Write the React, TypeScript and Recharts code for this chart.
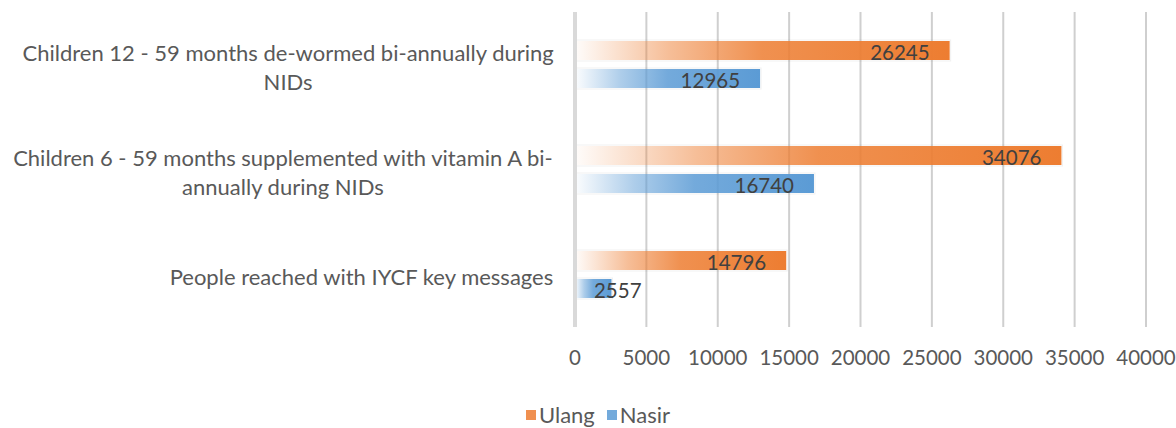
import { BarChart, Bar, XAxis, YAxis, CartesianGrid, Legend, LabelList } from "recharts"

const categories = [
  "Children 12 - 59 months de-wormed bi-annually during NIDs",
  "Children 6 - 59 months supplemented with vitamin A bi-annually during NIDs",
  "People reached with IYCF key messages",
]
const ulang = [26245, 34076, 14796]
const nasir = [12965, 16740, 2557]
const xTicks = [0, 5000, 10000, 15000, 20000, 25000, 30000, 35000, 40000]

const ORANGE = "#ED7D31"
const BLUE = "#5B9BD5"
const FONT = "Lato, 'Open Sans', sans-serif"
const NUM_SIZE = 20.5
const CAT_SIZE = 22

const data = categories.map((name, i) => ({ name, Ulang: ulang[i], Nasir: nasir[i] }))

let ctx: CanvasRenderingContext2D | null = null
function textWidth(s: string, size: number) {
  if (!ctx) ctx = document.createElement("canvas").getContext("2d")
  if (!ctx) return s.length * size * 0.5
  ctx.font = `${size}px Lato`
  return ctx.measureText(s).width
}

// word wrap, also allowed to break after a hyphen
function wrap(text: string, maxWidth: number) {
  const pieces = text.split(" ").flatMap((w) => {
    const parts = w.split(/(?<=-)(?=[a-z])/)
    return parts.map((p, i) => (i < parts.length - 1 ? p : p + " "))
  })
  const lines: string[] = []
  let cur = ""
  for (const p of pieces) {
    const next = cur + p
    if (cur && textWidth(next.trim(), CAT_SIZE) > maxWidth) {
      lines.push(cur.trim())
      cur = p
    } else cur = next
  }
  if (cur.trim()) lines.push(cur.trim())
  return lines
}

const CategoryTick = (props: any) => {
  const { x, y, payload } = props
  const lines = wrap(payload.value, 555)
  const widest = Math.max(...lines.map((l) => textWidth(l, CAT_SIZE)))
  const right = x - 13
  const cx = right - widest / 2
  const lh = 29
  const top = y - ((lines.length - 1) * lh) / 2 + 2
  return (
    <g>
      {lines.map((l, i) => (
        <text
          key={i}
          x={cx}
          y={top + i * lh}
          textAnchor="middle"
          dominantBaseline="central"
          fill="#595959"
          fontSize={CAT_SIZE}
          fontFamily={FONT}
        >
          {l}
        </text>
      ))}
    </g>
  )
}

const FadeBar = (props: any) => {
  const { x, y, width, height, gradId } = props
  if (!width || width <= 0) return null
  return (
    <g>
      <rect x={x} y={y - 1} width={width + 1} height={height + 2} fill="none" stroke="#000" strokeOpacity={0.06} />
      <rect x={x} y={y} width={width} height={height} fill={`url(#${gradId})`} />
    </g>
  )
}

const ValueLabel = (props: any) => {
  const { x, y, width, height, value } = props
  const s = String(value)
  const w = textWidth(s, NUM_SIZE)
  let tx = x + width - 20
  if (tx - w < x + 19) tx = x + 19 + w
  return (
    <text
      x={tx}
      y={y + height / 2 + 1}
      textAnchor="end"
      dominantBaseline="central"
      fill="#404040"
      fontSize={NUM_SIZE}
      fontFamily={FONT}
    >
      {s}
    </text>
  )
}

const LegendContent = () => (
  <div
    style={{
      display: "flex",
      justifyContent: "center",
      gap: 12,
      paddingTop: 3,
      paddingLeft: 50,
      fontFamily: FONT,
      fontSize: CAT_SIZE,
      color: "#595959",
    }}
  >
    {[
      ["Ulang", ORANGE],
      ["Nasir", BLUE],
    ].map(([n, c]) => (
      <div key={n} style={{ display: "flex", alignItems: "center" }}>
        <span style={{ width: 10, height: 10, background: c, opacity: 0.85, marginRight: 3, display: "inline-block" }} />
        <span>{n}</span>
      </div>
    ))}
  </div>
)

export default function App() {
  return (
    <div style={{ position: "absolute", left: 0, top: 0, background: "#fff" }}>
      <BarChart
        width={1176}
        height={428}
        data={data}
        layout="vertical"
        barSize={19}
        barGap={9}
        margin={{ top: 12, right: 30, left: 0, bottom: 0 }}
      >
        <defs>
          {[
            ["gradU", ORANGE],
            ["gradN", BLUE],
          ].map(([id, c]) => (
            <linearGradient key={id} id={id} x1="0" y1="0" x2="1" y2="0">
              <stop offset="0" stopColor={c} stopOpacity={0.02} />
              <stop offset="0.25" stopColor={c} stopOpacity={0.5} />
              <stop offset="0.5" stopColor={c} stopOpacity={0.85} />
              <stop offset="1" stopColor={c} stopOpacity={1} />
            </linearGradient>
          ))}
        </defs>
        <CartesianGrid horizontal={false} stroke="#cfcfcf" strokeWidth={2} />
        <XAxis
          type="number"
          domain={[0, 40000]}
          ticks={xTicks}
          axisLine={false}
          tickLine={false}
          height={71}
          tickMargin={17}
          tick={{ fill: "#595959", fontSize: NUM_SIZE, fontFamily: FONT }}
        />
        <YAxis
          type="category"
          dataKey="name"
          width={575}
          axisLine={{ stroke: "#d9d9d9", strokeWidth: 4 }}
          tickLine={false}
          tick={<CategoryTick />}
        />
        <Legend verticalAlign="bottom" height={30} content={<LegendContent />} />
        <Bar dataKey="Ulang" fill={ORANGE} isAnimationActive={false} shape={<FadeBar gradId="gradU" />}>
          <LabelList dataKey="Ulang" content={<ValueLabel />} />
        </Bar>
        <Bar dataKey="Nasir" fill={BLUE} isAnimationActive={false} shape={<FadeBar gradId="gradN" />}>
          <LabelList dataKey="Nasir" content={<ValueLabel />} />
        </Bar>
      </BarChart>
    </div>
  )
}
